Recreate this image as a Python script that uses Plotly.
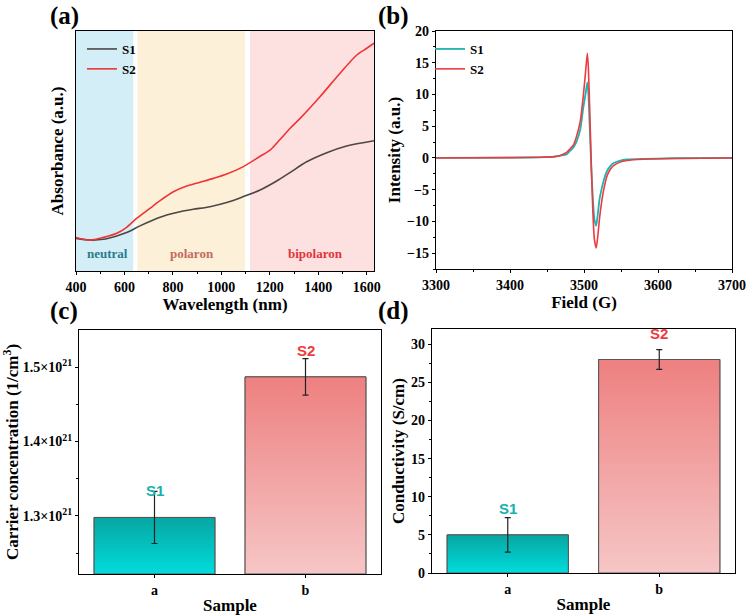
import plotly.graph_objects as go

# ---------------- data ----------------
# (a) UV-vis-NIR absorbance (arbitrary units)
wl_s1 = [400, 458, 513, 568, 609, 664, 719, 774, 829, 884, 953, 1022, 1091, 1160, 1230, 1283, 1352, 1435, 1517, 1630]
abs_s1 = [0.136, 0.129, 0.132, 0.146, 0.160, 0.188, 0.2125, 0.233, 0.247, 0.257, 0.268, 0.285, 0.310, 0.3375,
          0.376, 0.410, 0.455, 0.493, 0.521, 0.543]
wl_s2 = [400, 458, 513, 568, 609, 650, 705, 747, 802, 857, 912, 967, 1022, 1091, 1160, 1201, 1242, 1283,
         1325, 1407, 1490, 1559, 1600, 1630]
abs_s2 = [0.140, 0.129, 0.140, 0.157, 0.182, 0.219, 0.261, 0.293, 0.330, 0.354, 0.370, 0.386, 0.404, 0.435,
          0.478, 0.504, 0.548, 0.594, 0.636, 0.726, 0.824, 0.900, 0.928, 0.949]
region_names = ["neutral", "polaron", "bipolaron"]
region_start = [400, 653, 1118]
region_end = [636, 1098, 1630]
region_label_x = [530, 880, 1387]

# (b) EPR spectra
field = [3300, 3400, 3440, 3460, 3468, 3477, 3481, 3486, 3490, 3495, 3499, 3502, 3504.5, 3506, 3508, 3510,
         3512, 3514, 3516.5, 3518.5, 3521, 3524, 3527, 3531, 3536, 3540, 3548, 3558, 3580, 3620, 3700]
epr_s1 = [0.0, 0.05, 0.1, 0.2, 0.35, 0.6, 1.1, 1.7, 2.6, 4.5, 7.9, 10.0, 11.9, 10.0, 4.0, -2.0,
          -6.5, -9.6, -10.7, -9.0, -6.5, -4.8, -3.4, -2.1, -1.2, -0.8, -0.45, -0.25, -0.15, -0.05, 0.0]
epr_s2 = [0.0, 0.05, 0.1, 0.2, 0.4, 0.9, 1.4, 2.1, 3.4, 5.8, 9.7, 13.4, 16.5, 14.0, 6.5, -1.5,
          -8.5, -12.8, -14.2, -12.5, -9.5, -6.8, -4.8, -2.9, -1.7, -1.2, -0.7, -0.4, -0.2, -0.1, 0.0]

# (c) carrier concentration, (d) conductivity
samples = ["a", "b"]
sample_names = ["S1", "S2"]
carrier = [1.298e21, 1.487e21]
carrier_err = [0.035e21, 0.0245e21]
carrier_ticks = [1.3e21, 1.4e21, 1.5e21]
carrier_ticktext = ["1.3×10<sup>21</sup>", "1.4×10<sup>21</sup>", "1.5×10<sup>21</sup>"]
carrier_minor = [1.25e21, 1.35e21, 1.45e21]
conductivity = [5.0, 28.0]
conductivity_err = [2.25, 1.3]

# ---------------- style ----------------
SERIF = "Liberation Serif, Times New Roman, serif"
SANS = "Liberation Sans, Arial, sans-serif"
W, H = 746, 616
BAR_W = 0.8
bar_top_colors = ["#07a6a2", "#ee8080"]
bar_bot_colors = ["#00dcdc", "#f6c6c6"]
label_colors = ["#17b0b0", "#ee3b40"]
region_colors = ["#d4eef8", "#fcf0d9", "#fde0e0"]
region_text_colors = ["#2b7c8c", "#c56a60", "#e0353b"]
C_RANGE = [1.222e21, 1.55e21]
D_RANGE = [0, 32]

fig = go.Figure()

# (a)
fig.add_trace(go.Scatter(x=wl_s1, y=abs_s1, mode="lines", name="S1", line=dict(color="#4d4646", width=1.6, shape="spline", smoothing=0.8),
                         xaxis="x", yaxis="y", legend="legend"))
fig.add_trace(go.Scatter(x=wl_s2, y=abs_s2, mode="lines", name="S2", line=dict(color="#ee3434", width=1.6, shape="spline", smoothing=0.8),
                         xaxis="x", yaxis="y", legend="legend"))
# (b)
fig.add_trace(go.Scatter(x=field, y=epr_s1, mode="lines", name="S1", line=dict(color="#1fb3ae", width=1.8, shape="spline", smoothing=0.5),
                         xaxis="x2", yaxis="y2", legend="legend2"))
fig.add_trace(go.Scatter(x=field, y=epr_s2, mode="lines", name="S2", line=dict(color="#ee3b40", width=1.6, shape="spline", smoothing=0.5),
                         xaxis="x2", yaxis="y2", legend="legend2"))

# bars (c) and (d)
for vals, errs, xa, ya, rng in [(carrier, carrier_err, "x3", "y3", C_RANGE), (conductivity, conductivity_err, "x4", "y4", D_RANGE)]:
    xs = list(range(len(vals)))
    fig.add_trace(go.Bar(x=xs, y=vals, width=BAR_W, marker=dict(color=bar_top_colors, line=dict(color="#555", width=1)),
                         xaxis=xa, yaxis=ya, showlegend=False))
    for i, v in enumerate(vals):
        px = [i - BAR_W / 2, i - BAR_W / 2, i + BAR_W / 2, i + BAR_W / 2, i - BAR_W / 2]
        py = [rng[0], v, v, rng[0], rng[0]]
        fig.add_trace(go.Scatter(x=px, y=py, mode="lines", fill="toself",
                                 fillgradient=dict(type="vertical", start=rng[0], stop=v,
                                                   colorscale=[[0, bar_bot_colors[i]], [1, bar_top_colors[i]]]),
                                 line=dict(color="#555", width=1), xaxis=xa, yaxis=ya, showlegend=False, hoverinfo="skip"))
    fig.add_trace(go.Scatter(x=xs, y=vals, mode="markers", marker=dict(size=1, color="rgba(0,0,0,0)"),
                             error_y=dict(type="data", array=errs, color="#222", thickness=1.2, width=3),
                             xaxis=xa, yaxis=ya, showlegend=False))

# ---------------- axes ----------------
tickfont = dict(family=SERIF, size=14, color="black", weight="bold")
titlefont = dict(family=SERIF, size=17, color="black", weight="bold")

def ax(**kw):
    d = dict(showline=True, linecolor="black", linewidth=1.3, mirror=True, ticks="outside", ticklen=3,
             tickwidth=1.2, tickcolor="black", showgrid=False, zeroline=False, tickfont=tickfont, automargin=False)
    d.update(kw)
    return d

minor_style = dict(ticks="outside", ticklen=2, tickwidth=1, tickcolor="black", showgrid=False)

fig.update_layout(
    width=W, height=H, margin=dict(l=0, r=0, t=0, b=0),
    paper_bgcolor="white", plot_bgcolor="white",
    xaxis=ax(domain=[76 / W, 374 / W], range=[400, 1630], dtick=200, tick0=400, minor=dict(dtick=100, **minor_style),
             title=dict(text="Wavelength (nm)", font=titlefont, standoff=2), anchor="y"),
    yaxis=ax(domain=[1 - 271 / H, 1 - 31 / H], range=[0, 1], ticks="", showticklabels=False,
             title=dict(text="Absorbance (a.u.)", font=titlefont, standoff=6), anchor="x"),
    xaxis2=ax(domain=[436 / W, 732 / W], range=[3300, 3700], dtick=100, minor=dict(dtick=50, **minor_style),
              title=dict(text="Field (G)", font=titlefont, standoff=2), anchor="y2"),
    yaxis2=ax(domain=[1 - 269 / H, 1 - 31 / H], range=[-17.5, 20], dtick=5, minor=dict(dtick=2.5, **minor_style),
              title=dict(text="Intensity (a.u.)", font=titlefont, standoff=2), anchor="x2"),
    xaxis3=ax(domain=[79 / W, 381 / W], range=[-0.5, 1.5], tickvals=[0, 1], ticktext=samples,
              title=dict(text="Sample", font=titlefont, standoff=2), anchor="y3"),
    yaxis3=ax(domain=[1 - 574 / H, 1 - 330 / H], range=C_RANGE, tickvals=carrier_ticks, ticktext=carrier_ticktext,
              minor=dict(tickvals=carrier_minor, **minor_style),
              title=dict(text="Carrier concentration (1/cm<sup>3</sup>)", font=titlefont, standoff=4), anchor="x3"),
    xaxis4=ax(domain=[432 / W, 735 / W], range=[-0.5, 1.5], tickvals=[0, 1], ticktext=samples,
              title=dict(text="Sample", font=titlefont, standoff=2), anchor="y4"),
    yaxis4=ax(domain=[1 - 573 / H, 1 - 329 / H], range=D_RANGE, dtick=5, minor=dict(dtick=2.5, **minor_style),
              title=dict(text="Conductivity (S/cm)", font=titlefont, standoff=2), anchor="x4"),
    legend=dict(x=82 / W, y=1 - 34 / H, xanchor="left", yanchor="top", bgcolor="rgba(0,0,0,0)",
                font=dict(family=SERIF, size=13, color="black", weight="bold"), tracegroupgap=0, itemwidth=30),
    legend2=dict(x=430 / W, y=1 - 34 / H, xanchor="left", yanchor="top", bgcolor="rgba(0,0,0,0)",
                 font=dict(family=SERIF, size=13, color="black", weight="bold"), tracegroupgap=0, itemwidth=30),
)

# (a) spectral regions
for name, x0, x1, fc, tc, lx in zip(region_names, region_start, region_end, region_colors, region_text_colors, region_label_x):
    fig.add_shape(type="rect", xref="x", yref="y domain", x0=x0, x1=x1, y0=0, y1=1, fillcolor=fc,
                  line=dict(width=0), layer="below")
    fig.add_annotation(x=lx, y=0.075, xref="x", yref="y", text=name, showarrow=False,
                       font=dict(family=SERIF, size=13, color=tc, weight="bold"))

# bar labels
for vals, xa, ya in [(carrier, "x3", "y3"), (conductivity, "x4", "y4")]:
    for i, v in enumerate(vals):
        fig.add_annotation(x=i, y=v, xref=xa, yref=ya, text=sample_names[i], showarrow=False, yanchor="bottom",
                           yshift=16, font=dict(family=SANS, size=15, color=label_colors[i], weight="bold"))

# panel letters
for txt, px, py, anchor in [("(a)", 64, 0, "top"), ("(b)", 393, 0, "top"), ("(c)", 64, 311, "middle"), ("(d)", 393, 311, "middle")]:
    fig.add_annotation(x=px / W, y=1 - py / H, xref="paper", yref="paper", text=txt, showarrow=False,
                       xanchor="center", yanchor=anchor, font=dict(family=SERIF, size=25, color="black", weight="bold"))

fig.write_html("out.html", config={"displayModeBar": False},
               post_script="document.body.style.margin='0';document.body.style.padding='0';")
